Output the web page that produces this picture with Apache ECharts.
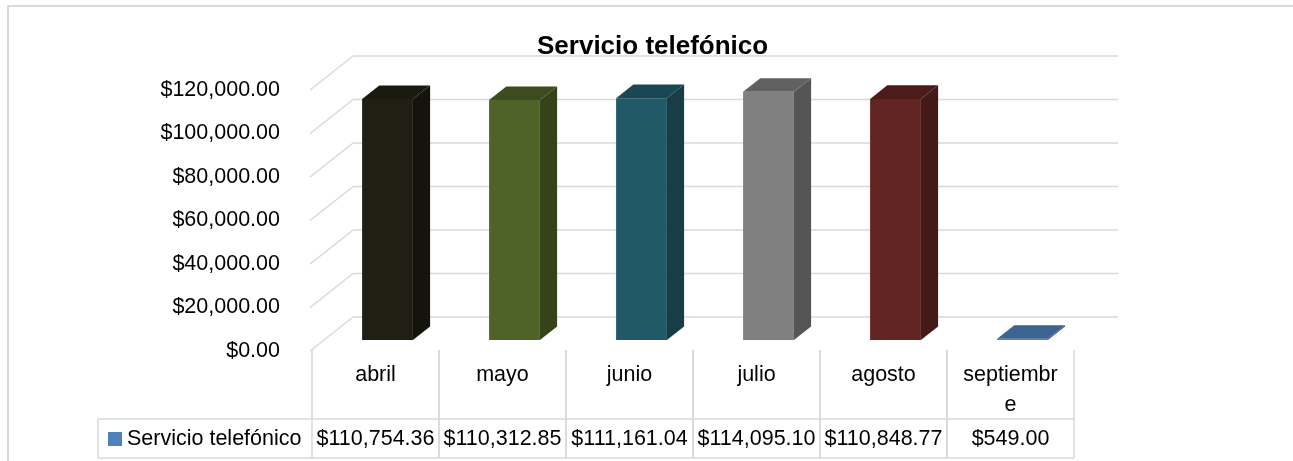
<!DOCTYPE html>
<html>
<head>
<meta charset="utf-8">
<script src="https://cdn.jsdelivr.net/npm/echarts@6/dist/echarts.min.js"></script>
<style>
  html, body { margin: 0; padding: 0; background: #fff; }
  #chart { width: 1293px; height: 461px; }
</style>
</head>
<body>
<div id="chart"></div>
<script>
const chartTitle = "Servicio telefónico";
const seriesName = "Servicio telefónico";
const months = ["abril", "mayo", "junio", "julio", "agosto", "septiembre"];
const amounts = [110754.36, 110312.85, 111161.04, 114095.10, 110848.77, 549.00];
const yTicks = [0, 20000, 40000, 60000, 80000, 100000, 120000];

// face colours per bar (front / right side / top), Excel "vary colours by point"
const frontColors = ["#211f14", "#4f6228", "#215968", "#808080", "#632523", "#4f81bd"];
const sideColors  = ["#15140c", "#364319", "#173d47", "#555555", "#431a18", "#35577f"];
const topColors   = ["#1b1a10", "#3d4b1f", "#1b4753", "#616161", "#4c1c1b", "#3d6391"];

const FONT = '"Liberation Sans", Arial, sans-serif';
const LINE = "#d9d9d9";
// floor depth (front edge -> back wall) in px; bars stand at 11/34 of it
const DEPTH_X = 43, DEPTH_Y = 34, BAR_AT = 11 / 34, BAR_DEPTH = 0.4, BAR_W = 0.4;
const HEADER_H = 69, LEGEND_CELL_W = 214;

function money(v) {
  return "$" + Number(v).toFixed(2).replace(/\B(?=(\d{3})+(?!\d))/g, ",");
}

const chart = echarts.init(document.getElementById("chart"), null, { renderer: "canvas" });

const option = {
  animation: false,
  backgroundColor: "#fff",
  title: {
    text: chartTitle,
    left: 532,
    top: 29,
    textStyle: { fontFamily: FONT, fontSize: 26, fontWeight: "bold", color: "#000" },
  },
  legend: {
    data: [seriesName],
    left: 103,
    top: 423,
    icon: "rect",
    itemWidth: 14,
    itemHeight: 14,
    textStyle: { fontFamily: FONT, fontSize: 21.5, color: "#000" },
  },
  grid: [
    { left: 324, top: 79, width: 762, height: 261 },  // plane of the bar fronts
    { left: 310, top: 90, width: 762, height: 261 },  // front edge (value labels)
    { left: 312, top: 350, width: 762, height: 108 }, // data table
  ],
  xAxis: [
    { gridIndex: 0, type: "category", data: months, show: false },
    { gridIndex: 1, type: "category", data: months, show: false },
    { gridIndex: 2, type: "category", data: months, show: false },
  ],
  yAxis: [
    { gridIndex: 0, type: "value", min: 0, max: 120000, interval: 20000, show: false },
    {
      gridIndex: 1, type: "value", min: 0, max: 120000, interval: 20000,
      axisLine: { show: false }, axisTick: { show: false }, splitLine: { show: false },
      axisLabel: { margin: 30, color: "#000", fontFamily: FONT, fontSize: 21.5, formatter: money },
    },
    { gridIndex: 2, type: "value", min: 0, max: 1, show: false },
  ],
  graphic: [
    {
      type: "polyline",
      shape: { points: [[8, 461], [8, 6], [1293, 6]] },
      style: { stroke: LINE, lineWidth: 2, fill: null },
    },
  ],
  series: [
    {
      // back wall gridlines + side wall diagonals
      type: "custom",
      xAxisIndex: 0, yAxisIndex: 0,
      silent: true,
      z: 1,
      data: yTicks.map((v) => [0, v]),
      renderItem: (params, api) => {
        const cs = params.coordSys;
        const y = api.coord([0, api.value(1)])[1];
        const bx = cs.x + DEPTH_X * (1 - BAR_AT), by = y - DEPTH_Y * (1 - BAR_AT);
        const fx = cs.x - DEPTH_X * BAR_AT, fy = y + DEPTH_Y * BAR_AT;
        const st = { stroke: LINE, lineWidth: 1.5 };
        return {
          type: "group",
          children: [
            { type: "line", shape: { x1: fx, y1: fy, x2: bx, y2: by }, style: st },
            { type: "line", shape: { x1: bx, y1: by, x2: bx + cs.width + 3, y2: by }, style: st },
          ],
        };
      },
    },
    {
      name: seriesName,
      type: "custom",
      xAxisIndex: 0, yAxisIndex: 0,
      z: 2,
      itemStyle: { color: "#4f81bd" },
      data: amounts.map((v, i) => [i, v]),
      renderItem: (params, api) => {
        const i = api.value(0);
        const base = api.coord([i, 0]);
        const peak = api.coord([i, api.value(1)]);
        const w = api.size([1, 0])[0] * BAR_W;
        const dx = DEPTH_X * BAR_DEPTH, dy = DEPTH_Y * BAR_DEPTH;
        const xl = base[0] - w / 2, xr = base[0] + w / 2, yb = base[1], yt = peak[1];
        return {
          type: "group",
          children: [
            { type: "polygon", shape: { points: [[xl, yt], [xr, yt], [xr, yb], [xl, yb]] }, style: { fill: frontColors[i] } },
            { type: "polygon", shape: { points: [[xr, yt], [xr + dx, yt - dy], [xr + dx, yb - dy], [xr, yb]] }, style: { fill: sideColors[i] } },
            { type: "polygon", shape: { points: [[xl, yt], [xl + dx, yt - dy], [xr + dx, yt - dy], [xr, yt]] }, style: { fill: topColors[i] } },
          ],
        };
      },
    },
    {
      // data table under the chart
      type: "custom",
      xAxisIndex: 2, yAxisIndex: 2,
      silent: true,
      z: 1,
      data: amounts.map((v, i) => [i, v]),
      renderItem: (params, api) => {
        const cs = params.coordSys;
        const i = api.value(0);
        const cx = api.coord([i, 0])[0];
        const bw = api.size([1, 0])[0];
        const x0 = cx - bw / 2, x1 = cx + bw / 2;
        const top = cs.y, mid = cs.y + HEADER_H, bot = cs.y + cs.height;
        const left = i === 0 ? x0 - LEGEND_CELL_W : x0;
        const st = { stroke: LINE, lineWidth: 1.5 };
        const line = (a, b, c, d) => ({ type: "line", shape: { x1: a, y1: b, x2: c, y2: d }, style: st });
        const children = [
          line(x0, top, x0, bot),
          line(x1, top, x1, bot),
          line(left, mid, x1, mid),
          line(left, bot, x1, bot),
          {
            type: "text",
            style: {
              text: months[i], x: cx, y: top + 10, align: "center", verticalAlign: "top",
              width: 100, overflow: "breakAll", lineHeight: 30,
              fontFamily: FONT, fontSize: 21.5, fill: "#000",
            },
          },
          {
            type: "text",
            style: {
              text: money(api.value(1)), x: cx, y: (mid + bot) / 2 + 1, align: "center", verticalAlign: "middle",
              fontFamily: FONT, fontSize: 21.5, fill: "#000",
            },
          },
        ];
        if (i === 0) children.push(line(left, mid, left, bot));
        return { type: "group", children };
      },
    },
  ],
};

chart.setOption(option);
window.addEventListener("resize", () => chart.resize());
</script>
</body>
</html>
